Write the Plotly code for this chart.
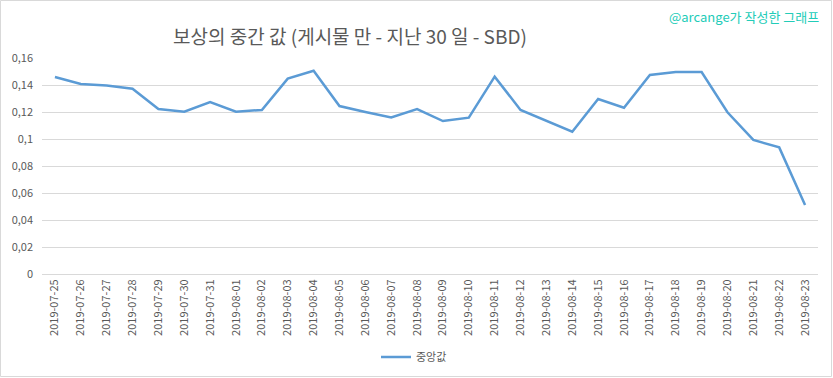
import plotly.graph_objects as go

dates = ["2019-07-25", "2019-07-26", "2019-07-27", "2019-07-28", "2019-07-29", "2019-07-30",
         "2019-07-31", "2019-08-01", "2019-08-02", "2019-08-03", "2019-08-04", "2019-08-05",
         "2019-08-06", "2019-08-07", "2019-08-08", "2019-08-09", "2019-08-10", "2019-08-11",
         "2019-08-12", "2019-08-13", "2019-08-14", "2019-08-15", "2019-08-16", "2019-08-17",
         "2019-08-18", "2019-08-19", "2019-08-20", "2019-08-21", "2019-08-22", "2019-08-23"]
median_vals = [0.1459, 0.1407, 0.1396, 0.1372, 0.1222, 0.1202, 0.1274, 0.1202, 0.1215, 0.1447,
               0.1506, 0.1244, 0.1200, 0.1160, 0.1222, 0.1133, 0.1158, 0.1462, 0.1215, 0.1133,
               0.1054, 0.1296, 0.1232, 0.1474, 0.1496, 0.1496, 0.1198, 0.0993, 0.0938, 0.0511]
y_tick_vals = [0, 0.02, 0.04, 0.06, 0.08, 0.1, 0.12, 0.14, 0.16]
y_tick_text = ["0", "0,02", "0,04", "0,06", "0,08", "0,1", "0,12", "0,14", "0,16"]

W, H = 833, 378
ml, mr, mt, mb = 42, 15, 58, 104
pw, ph = W - ml - mr, H - mt - mb

fig = go.Figure()
fig.add_trace(go.Scatter(
    x=dates, y=median_vals, mode="lines", name="중앙값",
    line=dict(color="#5b9bd5", width=2.5),
))

font_family = "Noto Sans CJK KR, Noto Sans, sans-serif"
fig.update_layout(
    width=W, height=H,
    margin=dict(l=ml, r=mr, t=mt, b=mb, autoexpand=False),
    paper_bgcolor="white", plot_bgcolor="white",
    font=dict(family=font_family, color="#595959", size=11),
    title=dict(text="보상의 중간 값 (게시물 만 - 지난 30 일 - SBD)",
               x=350 / W, xanchor="center", y=1 - 37 / H, yanchor="middle",
               font=dict(size=19, color="#595959", family=font_family)),
    showlegend=True,
    legend=dict(orientation="h", x=(414 - ml) / pw, xanchor="center",
                y=(274 - 357) / ph, yanchor="middle",
                font=dict(size=11, color="#595959")),
    xaxis=dict(type="category", range=[-0.5, len(dates) - 0.5], automargin=False,
               tickangle=-90, showgrid=False, showline=True,
               linecolor="#d9d9d9", linewidth=1, ticks="",
               tickfont=dict(size=11, color="#595959")),
    yaxis=dict(range=[0, 0.16], tickvals=y_tick_vals, ticktext=y_tick_text,
               automargin=False, ticklabelstandoff=8,
               showgrid=True, gridcolor="#d9d9d9", gridwidth=1,
               zeroline=False, showline=False, ticks="",
               tickfont=dict(size=11, color="#595959")),
    annotations=[dict(text="@arcange가 작성한 그래프", xref="paper", yref="paper",
                      x=(821 - ml) / pw, xanchor="right",
                      y=1 + (mt - 17) / ph, yanchor="middle", showarrow=False,
                      font=dict(size=13, color="#22ccb8", family=font_family))],
    shapes=[dict(type="rect", xref="paper", yref="paper",
                 x0=(0.5 - ml) / pw, x1=(W - 1.5 - ml) / pw,
                 y0=1 + (mt - 0.5) / ph, y1=-(mb - 1.5) / ph,
                 line=dict(color="#d9d9d9", width=1), layer="below")],
)

fig.write_html("out.html", config={"displayModeBar": False},
               post_script="document.body.style.margin='0';document.body.style.overflow='hidden';")
